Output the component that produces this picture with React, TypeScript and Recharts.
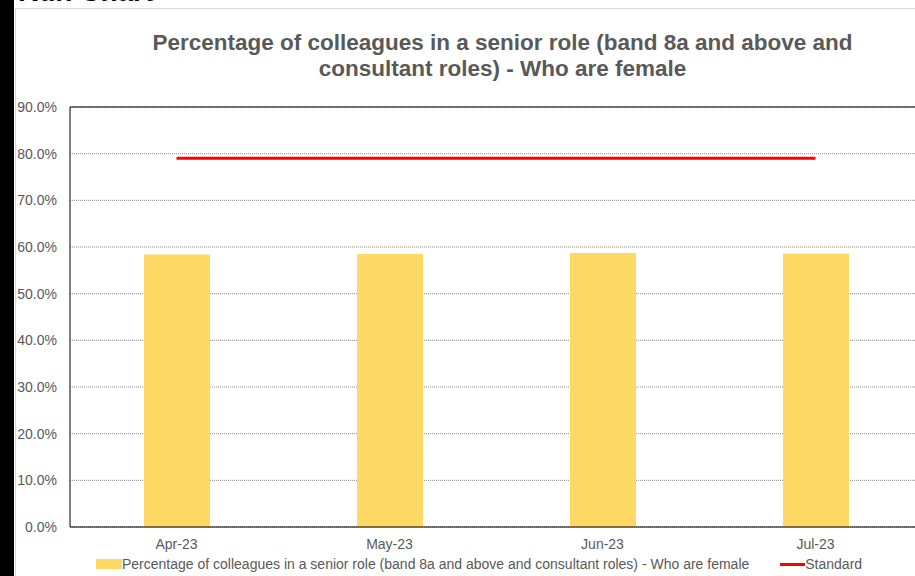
import { ComposedChart, Bar, Line, XAxis, YAxis, CartesianGrid, ReferenceLine } from 'recharts'

const months = ['Apr-23', 'May-23', 'Jun-23', 'Jul-23']
const femaleSenior = [58.4, 58.5, 58.7, 58.6]
const standard = [79, 79, 79, 79]
const yTicks = [0, 10, 20, 30, 40, 50, 60, 70, 80, 90]

const SERIES_NAME =
  'Percentage of colleagues in a senior role (band 8a and above and consultant roles) - Who are female'

const FONT = '"Liberation Sans", Arial, sans-serif'
const TEXT = '#595959'
const BAR = '#FFD966'
const RED = '#FF0000'

const data = months.map((month, i) => ({
  month,
  female: femaleSenior[i],
  standard: standard[i],
}))

export default function App() {
  return (
    <div
      style={{
        position: 'absolute',
        left: 0,
        top: 0,
        width: 915,
        height: 576,
        overflow: 'hidden',
        background: '#fff',
        fontFamily: FONT,
      }}
    >
      {/* page heading, mostly scrolled off */}
      <div
        style={{
          position: 'absolute',
          left: 18,
          top: -24,
          fontSize: 28,
          fontWeight: 700,
          color: '#000',
          whiteSpace: 'nowrap',
        }}
      >
        Run Chart
      </div>
      <div style={{ position: 'absolute', left: 0, top: 0, width: 14, height: 576, background: '#000' }} />
      <div
        style={{
          position: 'absolute',
          left: 15,
          top: 8,
          width: 960,
          height: 600,
          border: '1px solid #d9d9d9',
          background: '#fff',
        }}
      />
      <div
        style={{
          position: 'absolute',
          left: 100,
          width: 805,
          top: 30,
          textAlign: 'center',
          fontSize: 22.5,
          lineHeight: '26px',
          fontWeight: 700,
          color: TEXT,
          whiteSpace: 'nowrap',
        }}
      >
        Percentage of colleagues in a senior role (band 8a and above and
        <br />
        consultant roles) - Who are female
      </div>
      <div style={{ position: 'absolute', left: 0, top: 0 }}>
        <ComposedChart
          width={935}
          height={576}
          data={data}
          margin={{ top: 107, right: 13, left: 15, bottom: 24 }}
        >
          <CartesianGrid vertical={false} stroke="#8c8c8c" strokeDasharray="1 1" />
          <XAxis
            dataKey="month"
            axisLine={{ stroke: '#000' }}
            tickLine={false}
            height={25}
            tick={{ fill: TEXT, fontSize: 14, fontFamily: FONT }}
            tickMargin={6}
          />
          <YAxis
            width={55}
            domain={[0, 90]}
            ticks={yTicks}
            interval={0}
            axisLine={{ stroke: '#000' }}
            tickLine={false}
            tickMargin={7}
            tickFormatter={(v: number) => `${v.toFixed(1)}%`}
            tick={{ fill: TEXT, fontSize: 14, fontFamily: FONT }}
          />
          <ReferenceLine y={90} stroke="#000" strokeWidth={1} />
          <Bar dataKey="female" fill={BAR} barSize={66} isAnimationActive={false} />
          <Line
            dataKey="standard"
            stroke={RED}
            strokeWidth={3}
            dot={false}
            activeDot={false}
            isAnimationActive={false}
          />
        </ComposedChart>
      </div>
      {/* legend */}
      <div
        style={{
          position: 'absolute',
          left: 96,
          top: 556,
          display: 'flex',
          alignItems: 'center',
          fontSize: 14,
          color: TEXT,
          whiteSpace: 'nowrap',
        }}
      >
        <span style={{ display: 'inline-block', width: 26, height: 10, background: BAR }} />
        <span>{SERIES_NAME}</span>
        <span style={{ display: 'inline-block', width: 25, height: 3, background: RED, marginLeft: 31 }} />
        <span>Standard</span>
      </div>
    </div>
  )
}
